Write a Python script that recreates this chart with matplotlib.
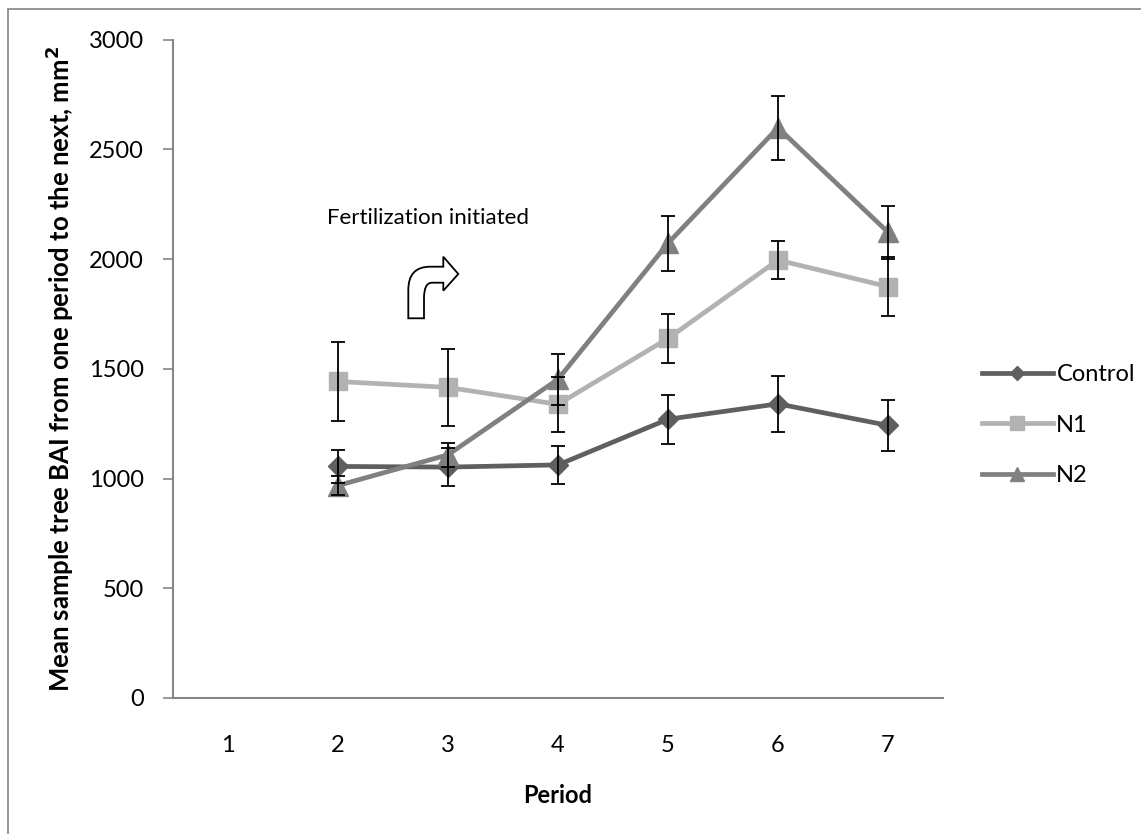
import matplotlib
matplotlib.use("Agg")
import matplotlib.pyplot as plt
from matplotlib.path import Path
from matplotlib.patches import PathPatch, Rectangle
import numpy as np

plt.rcParams['font.family'] = ['Lato', 'DejaVu Sans']

# data
periods = [1, 2, 3, 4, 5, 6, 7]
series_names = ['Control', 'N1', 'N2']
control = [np.nan, 1055, 1052, 1062, 1270, 1340, 1242]
control_err = [np.nan, 75, 87, 87, 112, 128, 117]
n1 = [np.nan, 1442, 1415, 1338, 1638, 1995, 1874]
n1_err = [np.nan, 178, 177, 125, 113, 88, 133]
n2 = [np.nan, 968, 1108, 1452, 2072, 2598, 2122]
n2_err = [np.nan, 42, 55, 115, 126, 145, 120]
y_ticks = [0, 500, 1000, 1500, 2000, 2500, 3000]

W, H = 1141, 834
fig = plt.figure(figsize=(W / 100, H / 100), dpi=100)
ax = fig.add_axes([173 / W, 1 - 698 / H, (943 - 173) / W, (698 - 39.5) / H])

# outer chart border (only top and left visible)
fig.patches.append(Rectangle((8 / W, -0.1), 1.2, 1 - 9 / H + 0.1, transform=fig.transFigure,
                             fill=False, edgecolor='#8c8c8c', linewidth=1.3))

styles = [
    (control, control_err, '#5f5f5f', 'D', 10),
    (n1, n1_err, '#b2b2b2', 's', 13),
    (n2, n2_err, '#808080', '^', 14),
]
for name, (vals, errs, col, mk, ms) in zip(series_names, styles):
    ax.plot(periods, vals, color=col, linewidth=3.4, marker=mk, markersize=ms,
            markeredgecolor=col, label=name, zorder=3)
for name, (vals, errs, col, mk, ms) in zip(series_names, styles):
    ax.errorbar(periods, vals, yerr=errs, fmt='none', ecolor='black', elinewidth=1.3,
                capsize=5, capthick=1.3, zorder=4)

ax.set_xlim(0.5, 7.5)
ax.set_ylim(0, 3000)
ax.set_yticks(y_ticks)
ax.set_xticks(periods)
ax.tick_params(axis='x', length=0, labelsize=17, pad=27)
ax.tick_params(axis='y', length=7, width=1.2, color='#868686', labelsize=17, pad=14)
for s in ['top', 'right']:
    ax.spines[s].set_visible(False)
for s in ['left', 'bottom']:
    ax.spines[s].set_color('#868686')
    ax.spines[s].set_linewidth(1.5)

ax.set_xlabel('Period', fontsize=17, fontweight='bold', labelpad=20)
ax.set_ylabel('Mean sample tree BAI from one period to the next, mm$^\\mathbf{2}$',
              fontsize=18.5, fontweight='bold')
ax.yaxis.label.set_va('center')
ax.yaxis.set_label_coords((60 - 173) / (943 - 173), 0.5)

leg = ax.legend(loc='center left', bbox_to_anchor=(982 / W, 1 - 425 / H), bbox_transform=fig.transFigure,
                frameon=False, fontsize=17, handlelength=3.0, handletextpad=0.15, labelspacing=1.25,
                markerscale=0.75, borderpad=0, borderaxespad=0)

ax.text(428 / W, 1 - 218 / H, 'Fertilization initiated', transform=fig.transFigure,
        ha='center', va='center', fontsize=16)

# bent arrow drawn in figure pixels
def px(x, y):
    return (x / W, 1 - y / H)

verts = [px(408.3, 318.3), px(408.3, 290), px(408.3, 266.7), px(430, 266.7),
         px(443.3, 266.7), px(443.3, 256.7), px(458.3, 274), px(443.3, 290.7),
         px(443.3, 282.7), px(432, 282.7), px(424, 282.7), px(424, 298),
         px(424, 318.3), px(408.3, 318.3)]
codes = [Path.MOVETO, Path.LINETO, Path.CURVE3, Path.CURVE3,
         Path.LINETO, Path.LINETO, Path.LINETO, Path.LINETO,
         Path.LINETO, Path.LINETO, Path.CURVE3, Path.CURVE3,
         Path.LINETO, Path.CLOSEPOLY]
fig.patches.append(PathPatch(Path(verts, codes), transform=fig.transFigure,
                             facecolor='white', edgecolor='black', linewidth=1.3))

fig.savefig('out.png', dpi=100)
